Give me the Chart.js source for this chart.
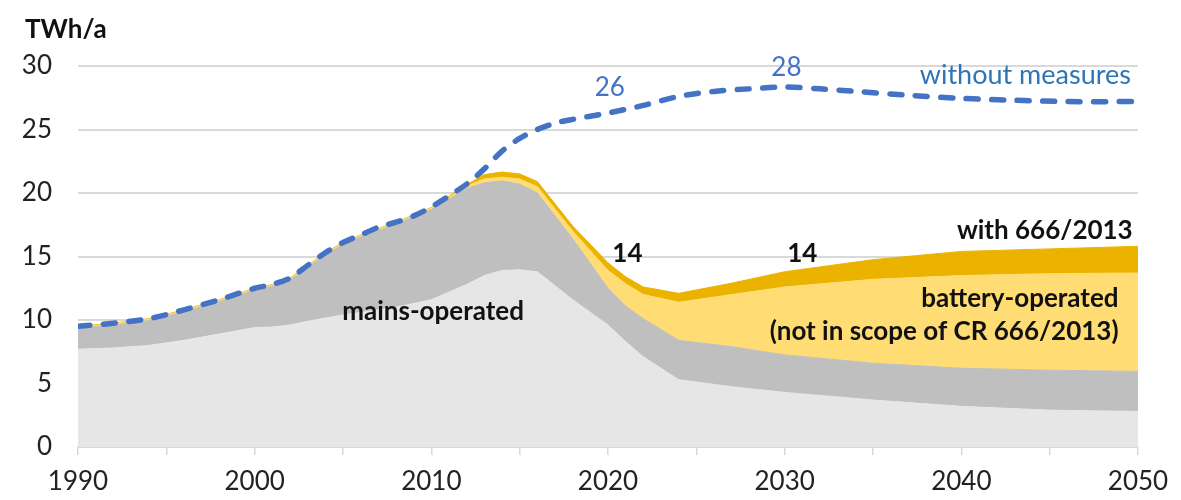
<!DOCTYPE html>
<html>
<head>
<meta charset="utf-8">
<script src="https://cdn.jsdelivr.net/npm/chart.js@4.4.1/dist/chart.umd.min.js"></script>
<style>
  html, body { margin: 0; padding: 0; background: #ffffff; }
  #wrap { width: 1181px; height: 500px; position: relative; }
</style>
</head>
<body>
<div id="wrap"><canvas id="c" width="1181" height="500"></canvas></div>
<script>
// ---- data (TWh/a) ----
const years = [1990, 1992, 1994, 1996, 1998, 2000, 2001, 2002, 2003, 2004, 2005, 2006, 2008, 2010, 2012, 2013, 2014, 2015, 2016, 2018, 2020, 2021, 2022, 2024, 2027, 2030, 2035, 2040, 2045, 2050];
// lower light-grey band
const mainsBase = [7.7, 7.8, 8.0, 8.4, 8.9, 9.4, 9.45, 9.6, 9.9, 10.15, 10.4, 10.6, 11.0, 11.6, 12.8, 13.5, 13.9, 13.95, 13.8, 11.6, 9.6, 8.3, 7.1, 5.3, 4.75, 4.3, 3.7, 3.2, 2.9, 2.8];
// upper dark-grey band (mains-operated)
const mainsUpper = [1.65, 1.8, 1.95, 2.25, 2.55, 2.95, 3.2, 3.55, 4.25, 5.0, 5.55, 5.95, 6.55, 7.1, 7.55, 7.3, 7.05, 6.75, 6.2, 4.8, 2.9, 2.8, 3.0, 3.1, 3.15, 2.95, 2.9, 3.0, 3.15, 3.15];
// battery-operated (light yellow)
const battery = [0.1, 0.1, 0.1, 0.1, 0.1, 0.1, 0.1, 0.1, 0.1, 0.1, 0.1, 0.1, 0.1, 0.1, 0.2, 0.3, 0.3, 0.4, 0.5, 0.6, 1.4, 1.75, 1.9, 3.0, 4.1, 5.35, 6.6, 7.3, 7.6, 7.75];
// top dark-yellow band
const topBand = [0.05, 0.05, 0.05, 0.05, 0.05, 0.05, 0.05, 0.05, 0.05, 0.05, 0.05, 0.05, 0.05, 0.05, 0.1, 0.35, 0.4, 0.4, 0.4, 0.4, 0.6, 0.55, 0.6, 0.7, 0.9, 1.2, 1.55, 1.9, 1.95, 2.1];
// without measures (dashed)
const wmYears = [1990, 1992, 1994, 1996, 1998, 2000, 2001, 2002, 2003, 2004, 2005, 2006, 2007, 2008, 2009, 2010, 2012, 2013, 2014, 2015, 2016, 2017, 2018, 2020, 2022, 2024, 2026, 2028, 2030, 2032, 2034, 2037, 2040, 2043, 2046, 2050];
const withoutMeasures = [9.5, 9.75, 10.1, 10.8, 11.6, 12.5, 12.8, 13.3, 14.3, 15.3, 16.1, 16.7, 17.3, 17.7, 18.2, 18.9, 20.7, 21.9, 23.3, 24.3, 25.0, 25.5, 25.8, 26.3, 26.9, 27.6, 28.0, 28.2, 28.35, 28.2, 28.0, 27.7, 27.45, 27.3, 27.2, 27.2];
const xTickLabels = ['1990', '2000', '2010', '2020', '2030', '2040', '2050'];
const yTickLabels = ['0', '5', '10', '15', '20', '25', '30'];

const FONT = 'Lato, "Open Sans", sans-serif';
const pts = (xs, ys) => xs.map((x, i) => ({ x: x, y: ys[i] }));

const annotations = [
  { text: 'TWh/a', px: 25, py: 30, align: 'left', font: 'bold 26px ' + FONT, color: '#111111', pixel: true },
  { text: 'mains-operated', x: 2010.1, y: 10.7, align: 'center', font: 'bold 26px ' + FONT, color: '#111111' },
  { text: '26', x: 2020.1, y: 28.3, align: 'center', font: '26px ' + FONT, color: '#4472C4' },
  { text: '28', x: 2030.1, y: 29.85, align: 'center', font: '26px ' + FONT, color: '#4472C4' },
  { text: '14', x: 2021.1, y: 15.2, align: 'center', font: 'bold 26px ' + FONT, color: '#111111' },
  { text: '14', x: 2031.0, y: 15.2, align: 'center', font: 'bold 26px ' + FONT, color: '#111111' },
  { text: 'with 666/2013', x: 2049.7, y: 17.0, align: 'right', font: 'bold 26px ' + FONT, color: '#111111' },
  { text: 'without measures', x: 2049.6, y: 29.3, align: 'right', font: '27px ' + FONT, color: '#2E75B6' },
  { text: 'battery-operated', x: 2048.9, y: 11.7, align: 'right', font: 'bold 26px ' + FONT, color: '#111111' },
  { text: '(not in scope of CR 666/2013)', x: 2048.9, y: 9.1, align: 'right', font: 'bold 26px ' + FONT, color: '#111111' }
];

const textPlugin = {
  id: 'texts',
  afterDatasetsDraw(chart) {
    const ctx = chart.ctx, xs = chart.scales.x, ys = chart.scales.y;
    ctx.save();
    ctx.textBaseline = 'middle';
    annotations.forEach(a => {
      ctx.font = a.font;
      ctx.fillStyle = a.color;
      ctx.textAlign = a.align;
      const px = a.pixel ? a.px : xs.getPixelForValue(a.x);
      const py = a.pixel ? a.py : ys.getPixelForValue(a.y);
      ctx.fillText(a.text, px, py);
    });
    ctx.restore();
  }
};

const areaDs = (label, data, color, fill) => ({
  label: label,
  data: pts(years, data),
  backgroundColor: color,
  borderColor: color,
  borderWidth: 1,
  pointRadius: 0,
  tension: 0,
  fill: fill,
  stack: 'areas',
  order: 1
});

new Chart(document.getElementById('c'), {
  type: 'line',
  data: {
    datasets: [
      {
        label: 'without measures',
        data: pts(wmYears, withoutMeasures),
        borderColor: '#4472C4',
        borderWidth: 5.5,
        borderDash: [12, 13.5],
        borderCapStyle: 'round',
        pointRadius: 0,
        tension: 0.3,
        fill: false,
        stack: 'wm',
        order: 0
      },
      areaDs('mains-operated (base)', mainsBase, '#E7E6E6', 'origin'),
      areaDs('mains-operated', mainsUpper, '#BFBFBF', '-1'),
      areaDs('battery-operated', battery, '#FFDC74', '-1'),
      areaDs('with 666/2013', topBand, '#EBB300', '-1')
    ]
  },
  options: {
    responsive: false,
    animation: false,
    layout: { padding: { top: 66, right: 43, left: 0, bottom: 0 } },
    plugins: { legend: { display: false }, tooltip: { enabled: false } },
    scales: {
      x: {
        type: 'linear',
        min: 1990, max: 2050,
        grid: { drawOnChartArea: false, drawTicks: true, tickLength: 8, color: '#D9D9D9', lineWidth: 1.5 },
        border: { display: true, color: '#D9D9D9', width: 1.5 },
        ticks: {
          stepSize: 5,
          autoSkip: false,
          maxRotation: 0,
          padding: 11,
          color: '#222222',
          font: { family: FONT, size: 26 },
          callback: (v) => {
            const s = String(v);
            return xTickLabels.includes(s) ? s : '';
          }
        },
        afterFit: (s) => { s.height = 53; }
      },
      y: {
        stacked: true,
        min: 0, max: 30,
        grid: { drawTicks: false, color: '#D9D9D9', lineWidth: 2 },
        border: { display: false },
        ticks: {
          stepSize: 5,
          padding: 26,
          color: '#222222',
          font: { family: FONT, size: 26 },
          callback: (v) => {
            const s = String(v);
            return yTickLabels.includes(s) ? s : '';
          }
        },
        afterFit: (s) => { s.width = 78; }
      }
    }
  },
  plugins: [textPlugin]
});
</script>
</body>
</html>
